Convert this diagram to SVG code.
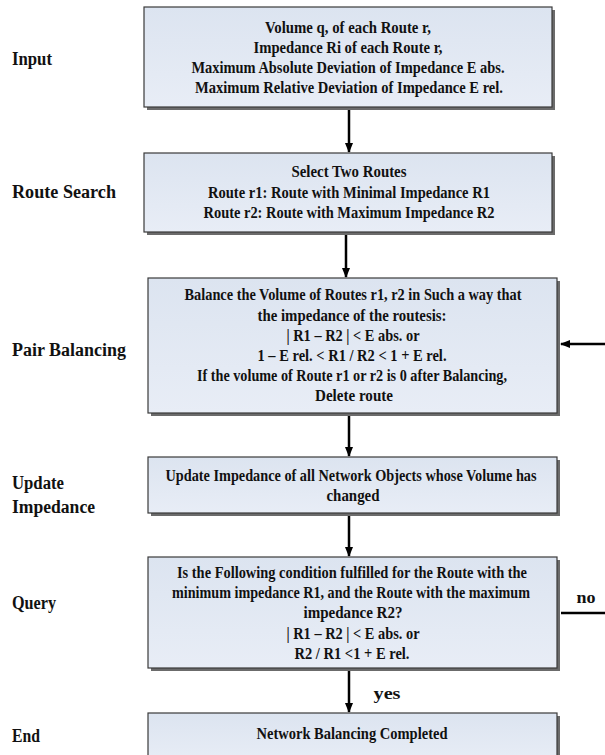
<svg xmlns="http://www.w3.org/2000/svg" width="605" height="755" viewBox="0 0 605 755">
  <style>
    .box { fill: url(#g); stroke: #3a3a3a; stroke-width: 1.2; }
    .shadow { fill: #6b6b6b; }
    .t { font-family: "Liberation Serif", "Times New Roman", serif; font-weight: bold; font-size: 16px; fill: #111; text-anchor: middle; }
    .lbl { font-family: "Liberation Serif", "Times New Roman", serif; font-weight: bold; font-size: 18px; fill: #111; }
    .conn { stroke: #000; stroke-width: 2.5; fill: none; }
  </style>
  <defs>
    <linearGradient id="g" x1="0" y1="0" x2="0" y2="1">
      <stop offset="0" stop-color="#dce4f0"/>
      <stop offset="1" stop-color="#e8edf6"/>
    </linearGradient>
    <marker id="ah" markerWidth="10" markerHeight="10" refX="9" refY="5" orient="auto" markerUnits="userSpaceOnUse">
      <path d="M0,1 L10,5 L0,9 Z" fill="#000"/>
    </marker>
  </defs>
  <rect width="605" height="755" fill="#fff"/>

  <g id="labels">
    <text class="lbl" x="12" y="65" textLength="40" lengthAdjust="spacingAndGlyphs">Input</text>
    <text class="lbl" x="12" y="198" textLength="104" lengthAdjust="spacingAndGlyphs">Route Search</text>
    <text class="lbl" x="12" y="356" textLength="114" lengthAdjust="spacingAndGlyphs">Pair Balancing</text>
    <text class="lbl" x="12" y="489" textLength="52" lengthAdjust="spacingAndGlyphs">Update</text>
    <text class="lbl" x="12" y="513" textLength="83" lengthAdjust="spacingAndGlyphs">Impedance</text>
    <text class="lbl" x="12" y="609" textLength="44" lengthAdjust="spacingAndGlyphs">Query</text>
    <text class="lbl" x="12" y="742" textLength="28" lengthAdjust="spacingAndGlyphs">End</text>
  </g>

  <g id="connectors">
    <line class="conn" x1="349" y1="108" x2="349" y2="152" marker-end="url(#ah)"/>
    <line class="conn" x1="346" y1="233" x2="346" y2="277" marker-end="url(#ah)"/>
    <line class="conn" x1="349" y1="414" x2="349" y2="456" marker-end="url(#ah)"/>
    <line class="conn" x1="349" y1="514" x2="349" y2="556" marker-end="url(#ah)"/>
    <line class="conn" x1="349" y1="669" x2="349" y2="712" marker-end="url(#ah)"/>
    <line class="conn" x1="605" y1="344" x2="561" y2="344" marker-end="url(#ah)"/>
    <line class="conn" x1="561" y1="613" x2="605" y2="613"/>
    <text class="t" x="387" y="699" font-size="18" textLength="27" lengthAdjust="spacingAndGlyphs">yes</text>
    <text class="t" x="586" y="603" font-size="18" textLength="19" lengthAdjust="spacingAndGlyphs">no</text>
  </g>

  <g id="input">
    <rect class="shadow" x="147" y="10" width="408" height="100"/>
    <rect class="box" x="144" y="7" width="408" height="100"/>
    <text class="t" x="348" y="33" textLength="166" lengthAdjust="spacingAndGlyphs">Volume q, of each Route r,</text>
    <text class="t" x="348" y="53" textLength="189" lengthAdjust="spacingAndGlyphs">Impedance Ri of each Route r,</text>
    <text class="t" x="348" y="73" textLength="313" lengthAdjust="spacingAndGlyphs">Maximum Absolute Deviation of Impedance E abs.</text>
    <text class="t" x="349" y="93" textLength="308" lengthAdjust="spacingAndGlyphs">Maximum Relative Deviation of Impedance E rel.</text>
  </g>

  <g id="route-search">
    <rect class="shadow" x="147" y="156" width="408" height="79"/>
    <rect class="box" x="144" y="153" width="408" height="79"/>
    <text class="t" x="349" y="177" textLength="115" lengthAdjust="spacingAndGlyphs">Select Two Routes</text>
    <text class="t" x="349" y="198" textLength="282" lengthAdjust="spacingAndGlyphs">Route r1: Route with Minimal Impedance R1</text>
    <text class="t" x="349" y="218" textLength="291" lengthAdjust="spacingAndGlyphs">Route r2: Route with Maximum Impedance R2</text>
  </g>

  <g id="pair-balancing">
    <rect class="shadow" x="151" y="281" width="409" height="135"/>
    <rect class="box" x="148" y="278" width="409" height="135"/>
    <text class="t" x="353" y="300" textLength="337" lengthAdjust="spacingAndGlyphs">Balance the Volume of Routes r1, r2 in Such a way that</text>
    <text class="t" x="352" y="321" textLength="189" lengthAdjust="spacingAndGlyphs">the impedance of the routesis:</text>
    <text class="t" x="353" y="341" textLength="133" lengthAdjust="spacingAndGlyphs">| R1 – R2 | &lt; E abs. or</text>
    <text class="t" x="352" y="361" textLength="189" lengthAdjust="spacingAndGlyphs">1 – E rel. &lt; R1 / R2 &lt; 1 + E rel.</text>
    <text class="t" x="352" y="381" textLength="310" lengthAdjust="spacingAndGlyphs">If the volume of Route r1 or r2 is 0 after Balancing,</text>
    <text class="t" x="354" y="401" textLength="78" lengthAdjust="spacingAndGlyphs">Delete route</text>
  </g>

  <g id="update-impedance">
    <rect class="shadow" x="151" y="460" width="409" height="56"/>
    <rect class="box" x="148" y="457" width="409" height="56"/>
    <text class="t" x="351" y="481" textLength="371" lengthAdjust="spacingAndGlyphs">Update Impedance of all Network Objects whose Volume has</text>
    <text class="t" x="353" y="501" textLength="53" lengthAdjust="spacingAndGlyphs">changed</text>
  </g>

  <g id="query">
    <rect class="shadow" x="151" y="560" width="409" height="111"/>
    <rect class="box" x="148" y="557" width="409" height="111"/>
    <text class="t" x="352" y="578" textLength="350" lengthAdjust="spacingAndGlyphs">Is the Following condition fulfilled for the Route with the</text>
    <text class="t" x="351" y="598" textLength="358" lengthAdjust="spacingAndGlyphs">minimum impedance R1, and the Route with the maximum</text>
    <text class="t" x="353" y="618" textLength="99" lengthAdjust="spacingAndGlyphs">impedance R2?</text>
    <text class="t" x="353" y="639" textLength="133" lengthAdjust="spacingAndGlyphs">| R1 – R2 | &lt; E abs. or</text>
    <text class="t" x="352" y="659" textLength="115" lengthAdjust="spacingAndGlyphs">R2 / R1 &lt;1 + E rel.</text>
  </g>

  <g id="end">
    <rect class="shadow" x="151" y="716" width="409" height="50"/>
    <rect class="box" x="148" y="713" width="409" height="50"/>
    <text class="t" x="352" y="739" textLength="191" lengthAdjust="spacingAndGlyphs">Network Balancing Completed</text>
  </g>
</svg>
